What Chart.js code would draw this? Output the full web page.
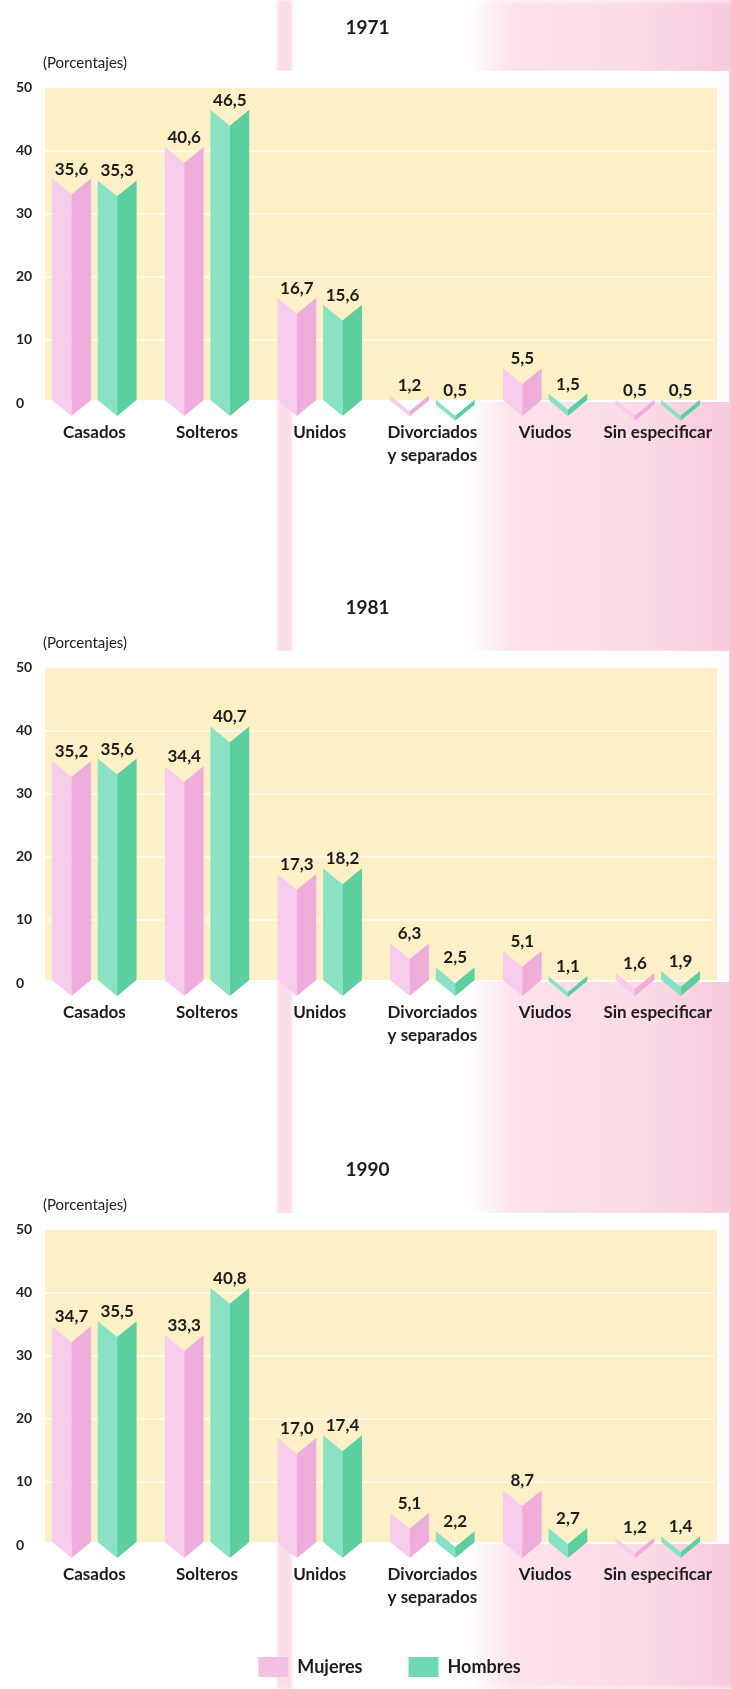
<!DOCTYPE html>
<html lang="es">
<head>
<meta charset="utf-8">
<title>Población por estado civil y sexo: 1971, 1981, 1990</title>
<script src="https://cdn.jsdelivr.net/npm/chart.js@4.4.1/dist/chart.umd.min.js"></script>
<style>
html, body { margin:0; padding:0; width:731px; height:1689px; overflow:hidden; background:#ffffff; }
#page { position:relative; width:731px; height:1689px; overflow:hidden; }
.bg { position:absolute; }
#stripe { left:277px; top:0; width:15px; height:1689px; background:#fbdde9; filter:blur(1.5px); }
#rightPink { left:468px; top:0; width:275px; height:1689px;
  background:linear-gradient(to right, rgba(252,224,235,0) 0px, #fce2ec 45px, #fbdbe8 170px, #f8cadd 263px);
  filter:blur(3px); }
canvas { position:absolute; left:0; }
</style>
</head>
<body>
<div id="page">
  <div class="bg" id="stripe"></div>
  <div class="bg" id="rightPink"></div>
  <canvas id="c1" width="731" height="480" style="top:0px"></canvas>
  <canvas id="c2" width="731" height="480" style="top:580px"></canvas>
  <canvas id="c3" width="731" height="547" style="top:1142px"></canvas>
</div>
<script>
// ---- Data ----
const categories = ['Casados', 'Solteros', 'Unidos', ['Divorciados', 'y separados'], 'Viudos', 'Sin especificar'];
const seriesNames = ['Mujeres', 'Hombres'];
const years = ['1971', '1981', '1990'];
const mujeres1971 = [35.6, 40.6, 16.7, 1.2, 5.5, 0.5];
const hombres1971 = [35.3, 46.5, 15.6, 0.5, 1.5, 0.5];
const mujeres1981 = [35.2, 34.4, 17.3, 6.3, 5.1, 1.6];
const hombres1981 = [35.6, 40.7, 18.2, 2.5, 1.1, 1.9];
const mujeres1990 = [34.7, 33.3, 17.0, 5.1, 8.7, 1.2];
const hombres1990 = [35.5, 40.8, 17.4, 2.2, 2.7, 1.4];
const yTicks = [0, 10, 20, 30, 40, 50];
const unitLabel = '(Porcentajes)';

// ---- Styles ----
const FONT = 'Lato, "Open Sans", sans-serif';
const INK = '#1c1c1c';
const palette = [
  { legend: '#f3c0e4', light: '#f7ccec', dark: '#efaddb' },
  { legend: '#6fd8b2', light: '#8ae2c5', dark: '#5ccfa0' }
];

const ribbonPlugin = {
  id: 'ribbon',
  beforeDraw(chart) {
    const { ctx, chartArea: a, scales: { y } } = chart;
    const top = y.getPixelForValue(y.max);
    const bottom = y.getPixelForValue(0) - 3;
    ctx.save();
    ctx.fillStyle = '#ffffff';
    ctx.fillRect(a.left + 2, top - 17, 729 - (a.left + 2), bottom - top + 19);
    ctx.fillStyle = '#fdf0c6';
    ctx.fillRect(a.left + 7, top, a.right + 3 - (a.left + 7), bottom - top);
    ctx.restore();
  },
  beforeDatasetDraw() { return false; },
  afterDatasetsDraw(chart) {
    const { ctx } = chart;
    ctx.save();
    chart.data.datasets.forEach((ds, di) => {
      const meta = chart.getDatasetMeta(di);
      const col = palette[di];
      meta.data.forEach((el) => {
        const p = el.getProps(['x', 'y', 'base', 'width'], true);
        const L = p.x - p.width / 2, R = p.x + p.width / 2;
        const d = p.width * 0.41;
        const bc = Math.max(p.base - 2, p.y + 5);
        const tip = bc + d;
        // left face
        ctx.fillStyle = col.light;
        ctx.beginPath();
        ctx.moveTo(L, p.y); ctx.lineTo(p.x, p.y + d); ctx.lineTo(p.x, tip); ctx.lineTo(L, bc);
        ctx.closePath(); ctx.fill();
        // right face
        ctx.fillStyle = col.dark;
        ctx.beginPath();
        ctx.moveTo(p.x, p.y + d); ctx.lineTo(R, p.y); ctx.lineTo(R, bc); ctx.lineTo(p.x, tip);
        ctx.closePath(); ctx.fill();
      });
    });
    // value labels
    ctx.fillStyle = INK;
    ctx.font = 'bold 17px ' + FONT;
    ctx.textAlign = 'center';
    ctx.textBaseline = 'bottom';
    chart.data.datasets.forEach((ds, di) => {
      const meta = chart.getDatasetMeta(di);
      meta.data.forEach((el, i) => {
        const p = el.getProps(['x', 'y'], true);
        ctx.fillText(ds.data[i].toFixed(1).replace('.', ','), p.x, p.y - 1);
      });
    });
    ctx.restore();
  },
  afterDraw(chart) {
    const { ctx, chartArea: a, scales: { y } } = chart;
    ctx.save();
    ctx.fillStyle = INK;
    ctx.font = '15px ' + FONT;
    ctx.textAlign = 'left';
    ctx.textBaseline = 'middle';
    ctx.fillText(unitLabel, a.left + 5, y.getPixelForValue(y.max) - 25);
    ctx.restore();
  }
};

const legendShift = {
  id: 'legendShift',
  afterLayout(chart) {
    const lg = chart.legend;
    if (lg && chart.options.plugins.legend.display) { lg.left += 22; lg.right += 22; }
  }
};

function makeChart(id, year, mujeres, hombres, withLegend) {
  return new Chart(document.getElementById(id), {
    type: 'bar',
    data: {
      labels: categories,
      datasets: [
        { label: seriesNames[0], data: mujeres, backgroundColor: palette[0].legend, borderWidth: 0, borderColor: 'rgba(0,0,0,0)', categoryPercentage: 0.81, barPercentage: 0.85 },
        { label: seriesNames[1], data: hombres, backgroundColor: palette[1].legend, borderWidth: 0, borderColor: 'rgba(0,0,0,0)', categoryPercentage: 0.81, barPercentage: 0.85 }
      ]
    },
    options: {
      responsive: false,
      animation: false,
      events: [],
      layout: { padding: { left: 16, right: 12, top: 0, bottom: withLegend ? 2 : 11 } },
      scales: {
        x: {
          grid: { display: false, drawTicks: false },
          border: { display: false },
          ticks: { padding: 18, color: INK, autoSkip: false, maxRotation: 0,
                   font: { family: FONT, size: 17, weight: 'bold', lineHeight: 1.35 } },
          afterFit: (s) => { s.height = 66; }
        },
        y: {
          min: 0, max: 50,
          afterBuildTicks: (s) => { s.ticks = yTicks.map(v => ({ value: v })); },
          grid: { drawTicks: false, lineWidth: 2,
                  color: (c) => (c.tick && (c.tick.value === 0 || c.tick.value === 50)) ? 'rgba(0,0,0,0)' : 'rgba(255,255,255,0.6)' },
          border: { display: false },
          ticks: { crossAlign: 'far', padding: 0, color: '#222222',
                   font: { family: FONT, size: 14, weight: 'bold' } },
          afterFit: (s) => { s.width = 22; }
        }
      },
      plugins: {
        title: { display: true, text: year, color: INK,
                 font: { family: FONT, size: 19, weight: 'bold', lineHeight: 1.2 },
                 padding: { top: 16, bottom: 49 } },
        legend: {
          display: withLegend, position: 'bottom',
          labels: { boxWidth: 30, boxHeight: 20, padding: 46, color: INK,
                    font: { family: FONT, size: 18, weight: 'bold' } }
        },
        tooltip: { enabled: false }
      }
    },
    plugins: [ribbonPlugin, legendShift]
  });
}

makeChart('c1', years[0], mujeres1971, hombres1971, false);
makeChart('c2', years[1], mujeres1981, hombres1981, false);
makeChart('c3', years[2], mujeres1990, hombres1990, true);
</script>
</body>
</html>
